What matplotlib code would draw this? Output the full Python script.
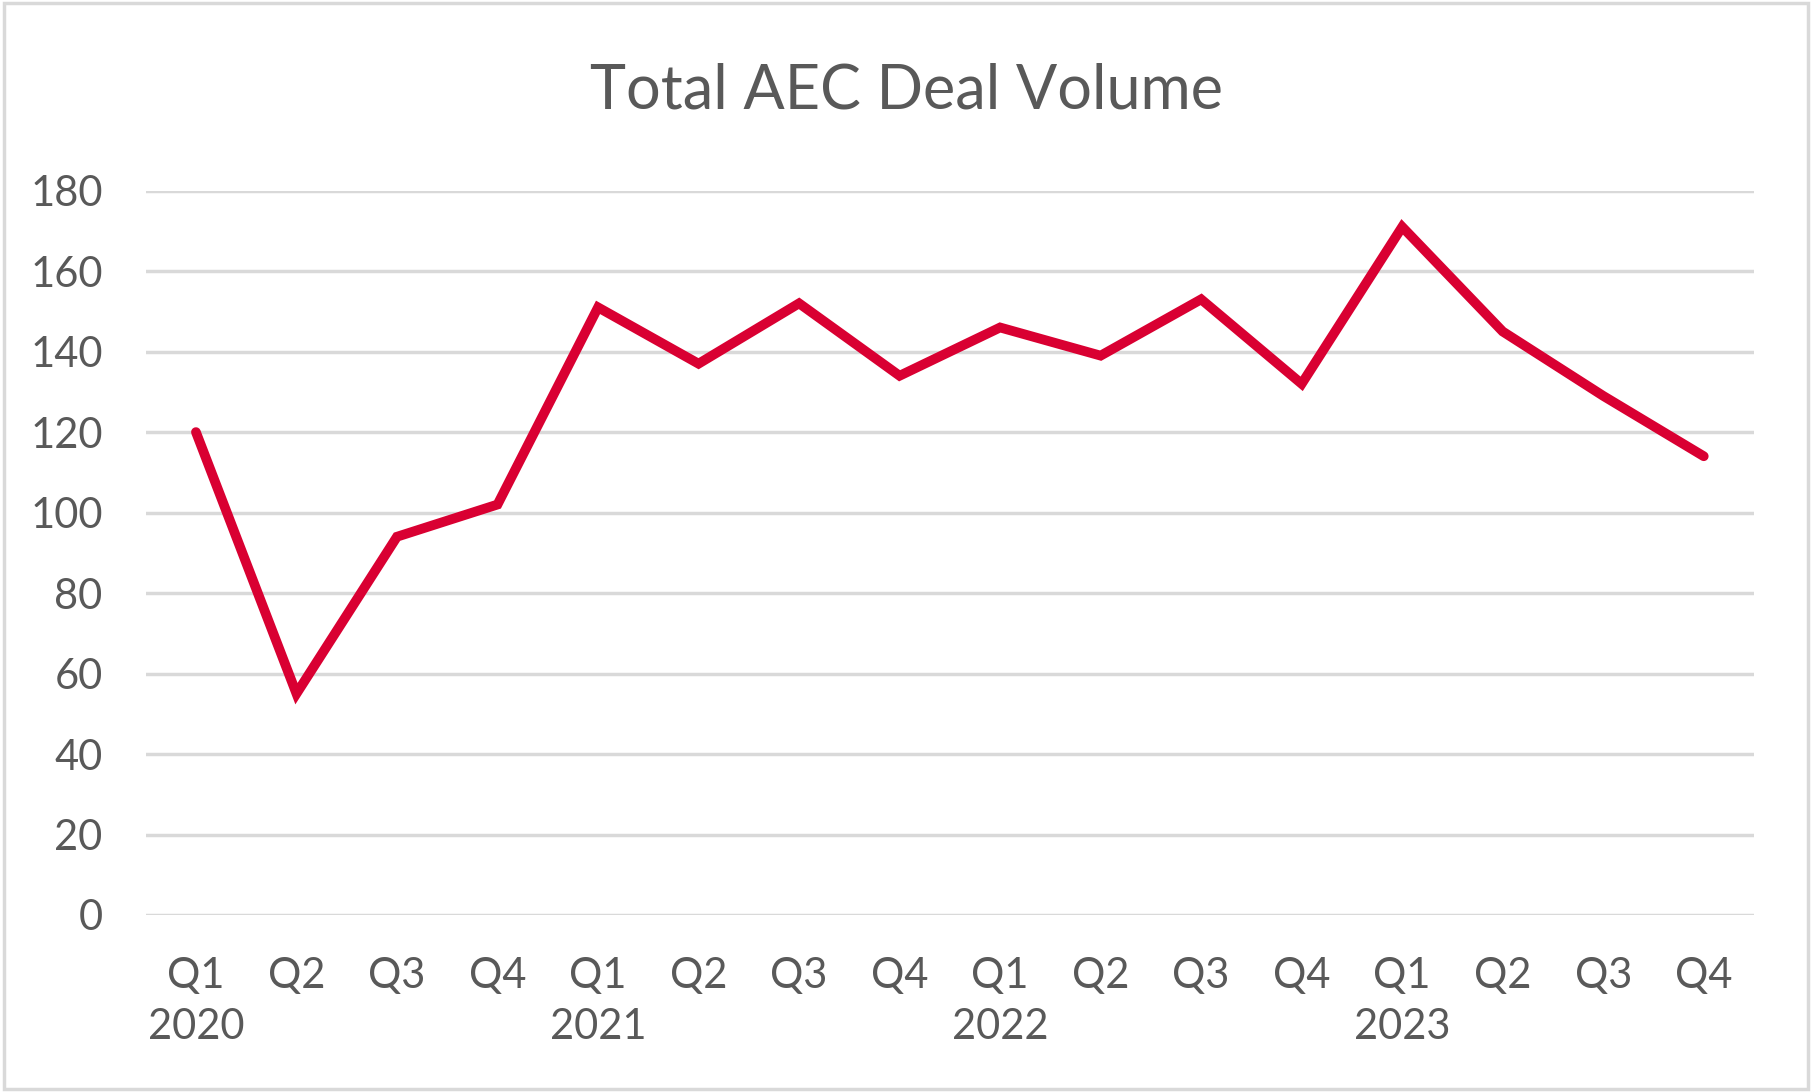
import matplotlib
matplotlib.use("Agg")
import matplotlib.pyplot as plt
from matplotlib.patches import Rectangle

quarters = ["Q1", "Q2", "Q3", "Q4"] * 4
years = ["2020", "2021", "2022", "2023"]
deal_volume = [120, 55, 94, 102, 151, 137, 152, 134, 146, 139, 153, 132, 171, 145, 129, 114]

text_color = "#595959"
grid_color = "#d9d9d9"
line_color = "#d90032"

plt.rcParams["font.family"] = ["Lato", "DejaVu Sans"]

fig = plt.figure(figsize=(18.12, 10.92), dpi=100)
ax = fig.add_axes([0.0804, 0.1621, 0.8876, 0.6633])

x = list(range(len(deal_volume)))
ax.plot(x, deal_volume, color=line_color, linewidth=7,
        solid_capstyle="round", solid_joinstyle="miter", clip_on=False, zorder=3)

ax.set_xlim(-0.5, len(deal_volume) - 0.5)
ax.set_ylim(0, 180)
ax.set_yticks(range(0, 181, 20))
ax.grid(axis="y", color=grid_color, linewidth=2.5)
ax.set_axisbelow(True)

labels = []
for i, q in enumerate(quarters):
    if i % 4 == 0:
        labels.append(q + "\n" + years[i // 4])
    else:
        labels.append(q + "\n")
ax.set_xticks(x)
ax.set_xticklabels(labels, linespacing=1.42)

ax.tick_params(axis="both", length=0, labelsize=30, colors=text_color)
ax.tick_params(axis="x", pad=30)
ax.tick_params(axis="y", pad=31)
for s in ax.spines.values():
    s.set_visible(False)

fig.text(0.5, 0.917, "Total AEC Deal Volume", ha="center", va="center",
         fontsize=44, color=text_color)

# chart border
fig.patches.append(Rectangle((0.002, 0.003), 0.996, 0.994, transform=fig.transFigure,
                             fill=False, edgecolor=grid_color, linewidth=2.5))

fig.savefig("out.png", dpi=100)
